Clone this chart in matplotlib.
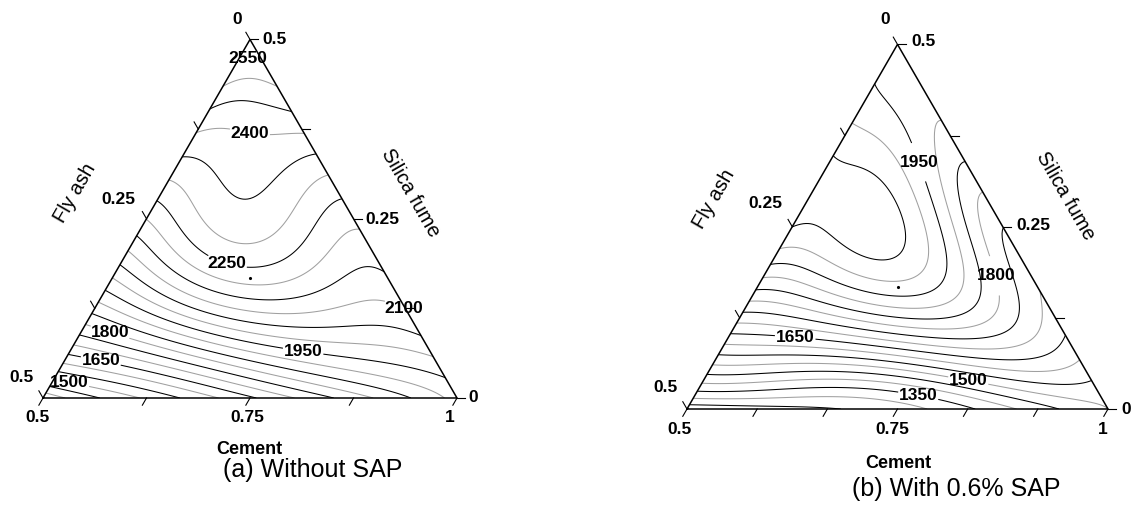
import numpy as np
import matplotlib.pyplot as plt
import matplotlib.tri as mtri

plt.rcParams['font.family'] = ['Liberation Sans', 'DejaVu Sans']

W, H = 1133, 511
STEP = 0.05   # lattice spacing (mass fraction)
SQ3 = np.sqrt(3)

# Strength on a simplex lattice. Row k has silica fume = 0.05*k,
# entries run from fly ash = 0 up to fly ash = 0.5 - silica fume.
rows_a = [
    [1920, 1860, 1800, 1745, 1695, 1640, 1585, 1532, 1480, 1428, 1360],
    [1985, 1950, 1940, 1920, 1875, 1825, 1770, 1712, 1655, 1605],
    [2075, 2045, 2045, 2035, 2010, 1950, 1890, 1835, 1790],
    [2125, 2134, 2158, 2183, 2197, 2145, 2050, 1955],
    [2168, 2190, 2258, 2292, 2254, 2165, 2086],
    [2210, 2255, 2315, 2320, 2273, 2195],
    [2288, 2330, 2338, 2333, 2298],
    [2370, 2390, 2393, 2372],
    [2447, 2440, 2447],
    [2515, 2515],
    [2595],
]
rows_b = [
    [1500, 1455, 1410, 1360, 1315, 1275, 1255, 1240, 1232, 1225, 1215],
    [1570, 1600, 1580, 1530, 1490, 1465, 1450, 1450, 1450, 1450],
    [1645, 1710, 1775, 1765, 1745, 1700, 1670, 1660, 1655],
    [1695, 1800, 1885, 1930, 1910, 1835, 1815, 1800],
    [1725, 1815, 1960, 2070, 2062, 1990, 1950],
    [1745, 1880, 2010, 2068, 2070, 2050],
    [1805, 1925, 2020, 2068, 2075],
    [1865, 1950, 2012, 2055],
    [1890, 1960, 1990],
    [1912, 1945],
    [1920],
]

levels_a = list(range(1250, 2651, 50))
levels_b = list(range(1150, 2151, 50))
labels_a = [1500, 1650, 1800, 1950, 2100, 2250, 2400, 2550]
labels_b = [1350, 1500, 1650, 1800, 1950]

# where the contour labels sit, in screen pixels (same order as labels)
label_px_a = [(69, 383), (101, 360), (111, 329), (303, 352),
              (403, 310), (225, 270), (248, 143), (249, 62)]
label_px_b = [(918, 397), (968, 382), (795, 340), (1005, 273), (922, 161)]

# triangle in pixels: bottom-left x, bottom y, side length
frame_a = (43, 398, 414)
frame_b = (687, 409, 421)


def fit_surface(rows, degree=6):
    s, f, v = [], [], []
    for k, row in enumerate(rows):
        for j, val in enumerate(row):
            s.append(2 * k * STEP)
            f.append(2 * j * STEP)
            v.append(val)
    s, f, v = np.array(s), np.array(f), np.array(v)
    powers = [(a, b) for a in range(degree + 1) for b in range(degree + 1 - a)]
    A = np.column_stack([s ** a * f ** b for a, b in powers])
    coef = np.linalg.lstsq(A, v, rcond=None)[0]

    def surface(ss, ff):
        return sum(c * (2 * ss) ** a * (2 * ff) ** b for c, (a, b) in zip(coef, powers))
    return surface


def mesh(n=180):
    wt, wr = [], []
    for i in range(n + 1):
        for j in range(n + 1 - i):
            wt.append(i / n)
            wr.append(j / n)
    wt, wr = np.array(wt), np.array(wr)
    x = wr + 0.5 * wt
    y = wt * SQ3 / 2
    silica = wt / 2
    flyash = (1 - wt - wr) / 2
    return mtri.Triangulation(x, y), silica, flyash


def px_text(x, y, s, **kw):
    fig.text(x / W, 1 - y / H, s, **kw)


def line_color(level, levels):
    return 'black' if levels.index(level) % 2 == 0 else '#a0a0a0'


def panel(frame, rows, levels, labels, label_px, bottom_step, side_step):
    x0, y0, side = frame
    ax = fig.add_axes([x0 / W, (H - y0) / H, side / W, side * SQ3 / 2 / H])
    ax.set_xlim(0, 1)
    ax.set_ylim(0, SQ3 / 2)
    ax.axis('off')

    tri, silica, flyash = mesh()
    z = fit_surface(rows)(silica, flyash)

    plain = [lv for lv in levels if lv not in labels]
    ax.tricontour(tri, z, levels=plain, colors=[line_color(lv, levels) for lv in plain],
                  linewidths=0.75)
    cs = ax.tricontour(tri, z, levels=labels, colors=[line_color(lv, levels) for lv in labels],
                       linewidths=0.75)
    spots = [((px - x0) / side, (y0 - py) / side) for px, py in label_px]
    ax.clabel(cs, manual=spots, inline=True, inline_spacing=1,
              fmt='%d', fontsize=12.5, colors='black')
    for t in cs.labelTexts:
        t.set_fontweight('bold')
        t.set_rotation(0)

    # triangle outline
    ax.plot([0, 1, 0.5, 0], [0, 0, SQ3 / 2, 0], color='black', lw=1.1,
            clip_on=False, solid_joinstyle='miter')
    # centroid marker
    ax.plot([0.5], [SQ3 / 6], marker='.', ms=2.5, color='black')

    L = 0.02
    tk = dict(color='black', lw=0.8, clip_on=False)
    for t in np.arange(0, 0.5 + 1e-9, bottom_step):
        # cement along the bottom, ticks point down-left
        xb = 2 * t
        ax.plot([xb, xb - 0.5 * L], [0, -SQ3 / 2 * L], **tk)
    for t in np.arange(0, 0.5 + 1e-9, side_step):
        # fly ash on the left edge, ticks point up-left
        xl, yl = 0.5 - t, (0.5 - t) * SQ3
        ax.plot([xl, xl - 0.5 * L], [yl, yl + SQ3 / 2 * L], **tk)
        # silica fume on the right edge, ticks point right
        xr, yr = 1 - t, t * SQ3
        ax.plot([xr, xr + L], [yr, yr], **tk)
    return ax


fig = plt.figure(figsize=(W / 100, H / 100), dpi=100)

panel(frame_a, rows_a, levels_a, labels_a, label_px_a, 0.125, 0.125)
panel(frame_b, rows_b, levels_b, labels_b, label_px_b, 1 / 12, 0.125)

tick_kw = dict(fontsize=12.5, fontweight='bold', va='center')
name_kw = dict(ha='center', va='center', fontsize=14.5)
cem_kw = dict(ha='center', va='center', fontsize=13, fontweight='bold')

# Without SAP
px_text(237, 20, '0', ha='center', **tick_kw)
px_text(262, 40, '0.5', ha='left', **tick_kw)
px_text(118, 200, '0.25', ha='center', **tick_kw)
px_text(22, 378, '0.5', ha='center', **tick_kw)
px_text(365, 220, '0.25', ha='left', **tick_kw)
px_text(468, 398, '0', ha='left', **tick_kw)
px_text(37, 417, '0.5', ha='center', **tick_kw)
px_text(247, 417, '0.75', ha='center', **tick_kw)
px_text(450, 417, '1', ha='center', **tick_kw)
px_text(249, 450, 'Cement', **cem_kw)
px_text(75, 193, 'Fly ash', rotation=60, **name_kw)
px_text(410, 193, 'Silica fume', rotation=-60, **name_kw)
px_text(313, 470, '(a) Without SAP', ha='center', va='center', fontsize=18)

# With 0.6% SAP
px_text(885, 19, '0', ha='center', **tick_kw)
px_text(911, 42, '0.5', ha='left', **tick_kw)
px_text(765, 204, '0.25', ha='center', **tick_kw)
px_text(665, 387, '0.5', ha='center', **tick_kw)
px_text(1016, 226, '0.25', ha='left', **tick_kw)
px_text(1121, 409, '0', ha='left', **tick_kw)
px_text(680, 429, '0.5', ha='center', **tick_kw)
px_text(892, 429, '0.75', ha='center', **tick_kw)
px_text(1103, 429, '1', ha='center', **tick_kw)
px_text(898, 464, 'Cement', **cem_kw)
px_text(714, 199, 'Fly ash', rotation=60, **name_kw)
px_text(1065, 196, 'Silica fume', rotation=-60, **name_kw)
px_text(956, 489, '(b) With 0.6% SAP', ha='center', va='center', fontsize=18)

fig.savefig('out.png', dpi=100)
